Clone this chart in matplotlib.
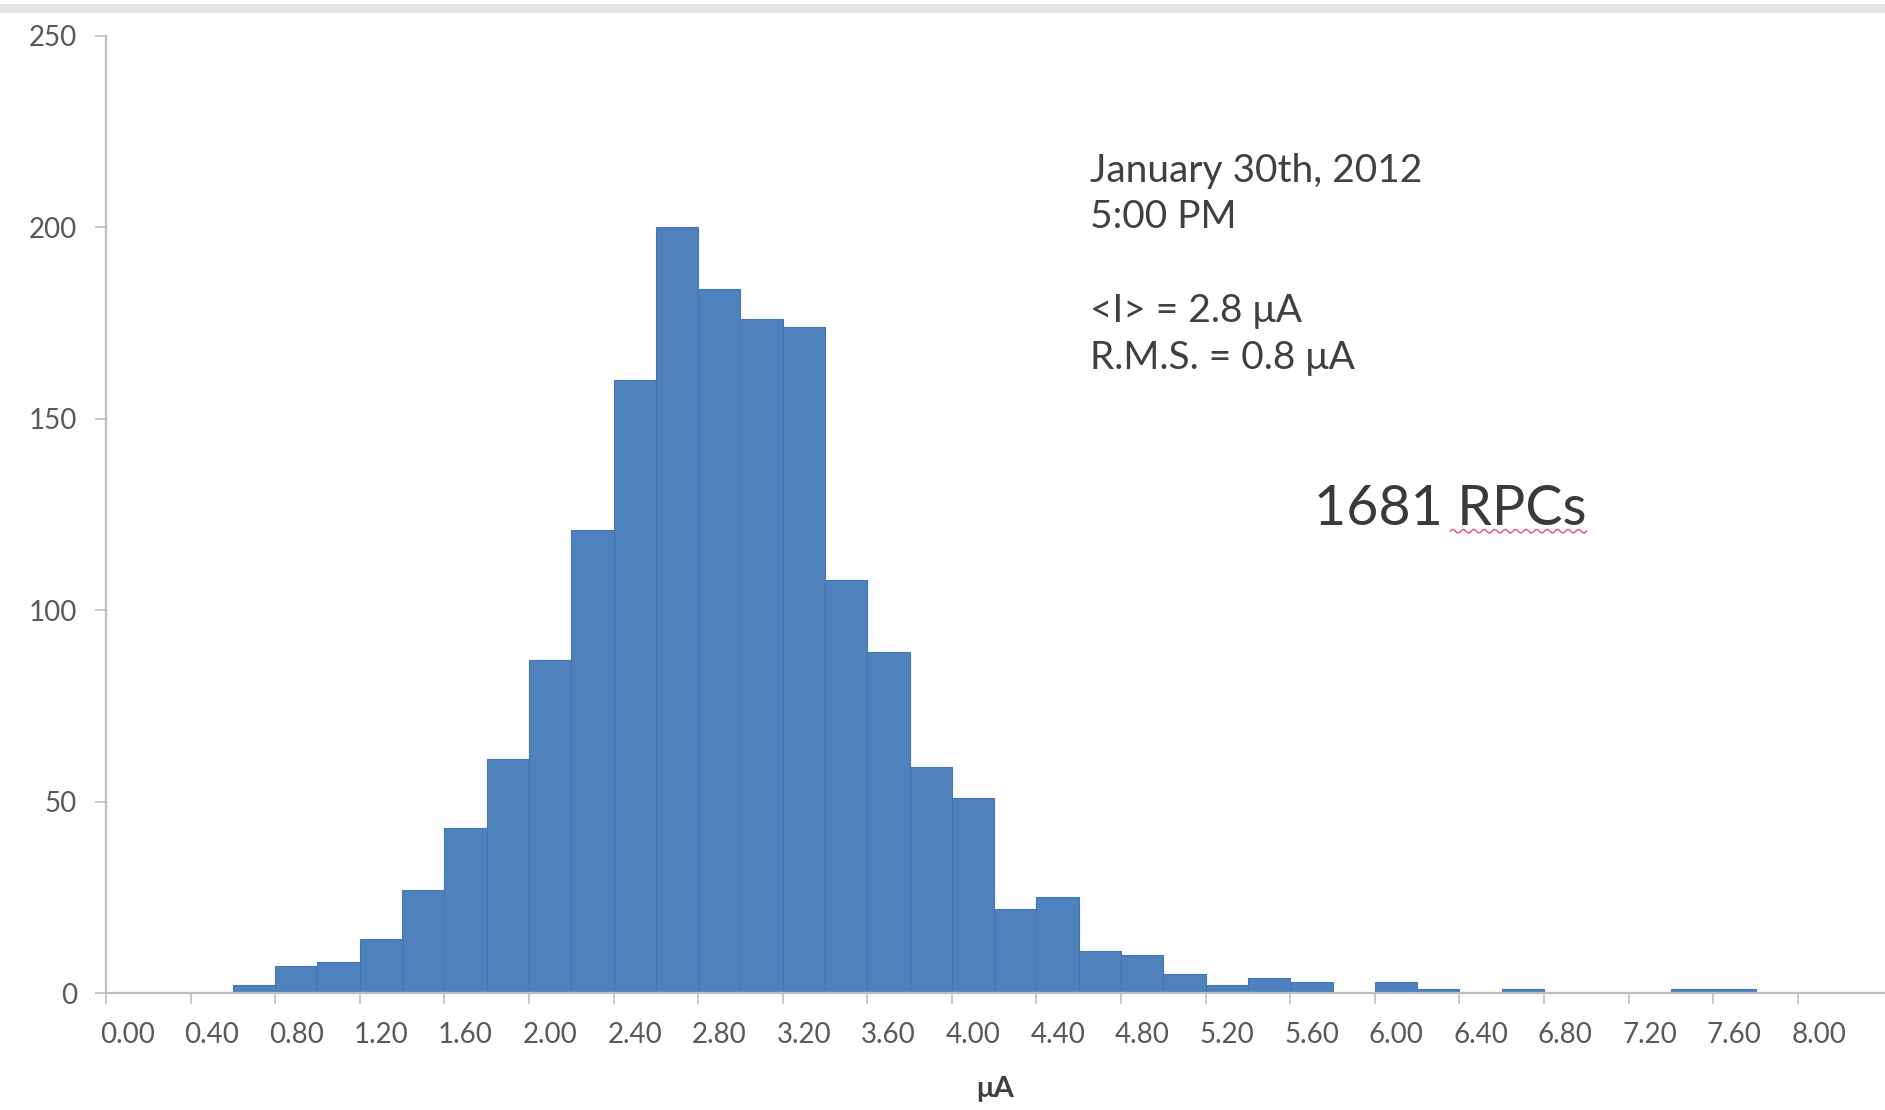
import matplotlib
matplotlib.use("Agg")
import matplotlib.pyplot as plt
from matplotlib.patches import Rectangle
import numpy as np

plt.rcParams['font.family'] = ['Lato', 'DejaVu Sans']

# bin labels, 0.20 uA wide
bin_labels = ["%.2f" % (0.2 * i) for i in range(41)]
counts = [0, 0, 0, 2, 7, 8, 14, 27, 43, 61,
          87, 121, 160, 200, 184, 176, 174, 108, 89, 59,
          51, 22, 25, 11, 10, 5, 2, 4, 3, 0,
          3, 1, 0, 1, 0, 0, 0, 1, 1, 0,
          0]
y_ticks = [0, 50, 100, 150, 200, 250]

info_lines = ["January 30th, 2012", "5:00 PM", "", "<I> = 2.8 \u03bcA", "R.M.S. = 0.8 \u03bcA"]
total_text = "1681 RPCs"

fig = plt.figure(figsize=(18.85, 11.1), dpi=100)
ax = fig.add_axes([0.0562, 0.1054, 0.9438, 0.8622])

pos = np.arange(len(bin_labels))
ax.bar(pos, counts, width=1.0, color="#4F81BD", edgecolor="#4576B3", linewidth=0.8)

ax.set_xlim(-0.5, 41.56)
ax.set_ylim(0, 250)

# labels on every other bin, tick marks on the bin edges
ax.set_xticks(pos[::2])
ax.set_xticklabels(bin_labels[::2], fontsize=20, color="#595959")
ax.set_xticks(pos[::2] - 0.5, minor=True)
ax.tick_params(axis="x", which="major", length=0, pad=21)
ax.tick_params(axis="x", which="minor", length=8, width=1.2, color="#BFBFBF")

ax.set_yticks(y_ticks)
ax.set_yticklabels([str(v) for v in y_ticks], fontsize=20, color="#595959")
ax.tick_params(axis="y", length=8, width=1.2, color="#BFBFBF", pad=13)

for side in ["top", "right"]:
    ax.spines[side].set_visible(False)
for side in ["left", "bottom"]:
    ax.spines[side].set_color("#BFBFBF")
    ax.spines[side].set_linewidth(1.6)

ax.set_xlabel("\u03bcA", fontsize=21, fontweight="bold", color="#404040", labelpad=20)

ax.text(0.553, 0.878, "\n".join(info_lines), transform=ax.transAxes,
        fontsize=28, color="#404040", va="top", ha="left", linespacing=1.37)
t = ax.text(0.679, 0.505, total_text, transform=ax.transAxes,
            fontsize=40, color="#3a3a3a", va="center", ha="left")

# red spell-check squiggle under "RPCs"
fig.canvas.draw()
bb = t.get_window_extent()
inv = fig.transFigure.inverted()
x0, y0 = inv.transform((bb.x0 + bb.width * 0.5, bb.y0 + 4))
x1, _ = inv.transform((bb.x1, bb.y0))
xs = np.linspace(x0, x1, 60)
ys = y0 + 0.0018 * np.sin(np.linspace(0, 26 * np.pi, 60))
fig.add_artist(plt.Line2D(xs, ys, color="#E0507A", linewidth=1.0, transform=fig.transFigure))

# thin grey band along the top edge
fig.add_artist(Rectangle((0, 0.988), 1, 0.008, transform=fig.transFigure,
                         color="#E6E6E6", linewidth=0))

fig.savefig("out.png", dpi=100)
